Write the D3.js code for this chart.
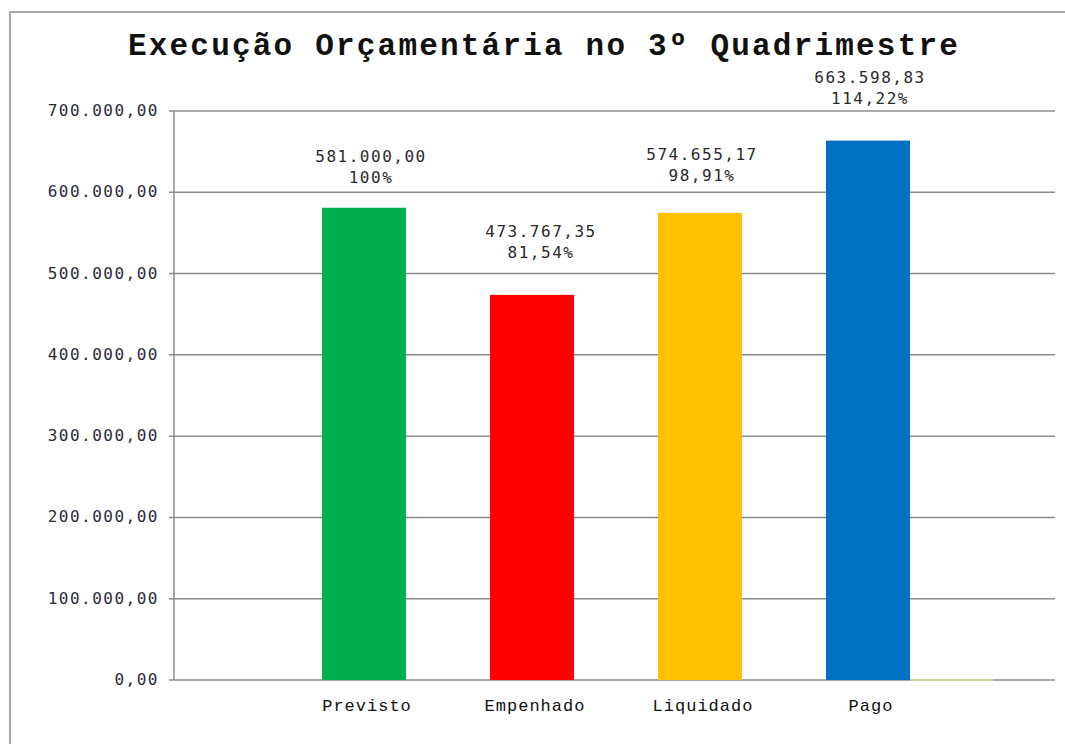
<!DOCTYPE html>
<html>
<head>
    <meta charset="utf-8">
    <title>Execução Orçamentária no 3º Quadrimestre</title>
</head>
<body style="margin:0">
<style type="text/css">
    body {
        background: #fff;
    }

    #renderer {
        width: 1065px;
        height: 744px;
        background: #FFF;
        display: block;
    }
</style>
<script type="text/javascript" src="https://cdnjs.cloudflare.com/ajax/libs/d3/7.8.5/d3.min.js"></script>
<svg id='renderer'></svg>

<script type="text/javascript">
    // data
    var categories = ['Previsto', 'Empenhado', 'Liquidado', 'Pago'];
    var values = [581000.00, 473767.35, 574655.17, 663598.83];
    var percentLabels = ['100%', '81,54%', '98,91%', '114,22%'];
    var barColors = ['#00B050', '#FF0000', '#FFC000', '#0070C0'];
    var yTicks = [0, 100000, 200000, 300000, 400000, 500000, 600000, 700000];

    var root = d3.select('#renderer');

    var totalWidth = 1065;
    var totalHeight = 744;

    var plotLeft = 174;
    var plotRight = 1055;
    var plotTop = 111;
    var plotBottom = 680;

    // formato brasileiro: 700.000,00
    var ptBR = d3.formatLocale({decimal: ',', thousands: '.', grouping: [3], currency: ['R$', '']});
    var fmt = ptBR.format(',.2f');

    var monoFont = '"Courier New", "Liberation Mono", monospace';
    var labelFont = '"DejaVu Sans Mono", "Liberation Mono", monospace';

    // moldura externa
    root.append('path')
        .attr('d', 'M10,744 V12 H1065')
        .attr('fill', 'none')
        .attr('stroke', '#a6a6a6')
        .attr('stroke-width', 2);

    // titulo
    root.append('text')
        .text('Execução Orçamentária no 3º Quadrimestre')
        .attr('x', 544)
        .attr('y', 55)
        .attr('font-family', monoFont)
        .attr('font-weight', 'bold')
        .attr('font-size', 31)
        .attr('letter-spacing', 2.2)
        .attr('text-anchor', 'middle')
        .attr('fill', '#111');

    var y = d3.scaleLinear()
        .domain([0, 700000])
        .range([plotBottom, plotTop]);

    var x = d3.scaleBand()
        .domain(categories)
        .range([280, 952])
        .paddingInner(0.5)
        .paddingOuter(0.25);

    // grade horizontal
    root.append('g')
        .selectAll('line')
        .data(yTicks)
        .enter()
        .append('line')
        .attr('x1', plotLeft - 5)
        .attr('x2', plotRight)
        .attr('y1', function (d) { return y(d); })
        .attr('y2', function (d) { return y(d); })
        .attr('stroke', '#8c8c8c')
        .attr('stroke-width', 1.5);

    // eixo vertical
    root.append('line')
        .attr('x1', plotLeft)
        .attr('x2', plotLeft)
        .attr('y1', plotTop)
        .attr('y2', plotBottom)
        .attr('stroke', '#8c8c8c')
        .attr('stroke-width', 1.5);

    // rotulos do eixo y
    root.append('g')
        .selectAll('text')
        .data(yTicks)
        .enter()
        .append('text')
        .text(function (d) { return fmt(d); })
        .attr('x', 159)
        .attr('y', function (d) { return y(d) + 5; })
        .attr('font-family', labelFont)
        .attr('font-size', 16)
        .attr('letter-spacing', 1.5)
        .attr('text-anchor', 'end')
        .attr('fill', '#2a2a3a');

    // barras
    root.append('g')
        .selectAll('rect')
        .data(categories)
        .enter()
        .append('rect')
        .attr('x', function (d) { return x(d); })
        .attr('y', function (d, i) { return y(values[i]); })
        .attr('width', x.bandwidth())
        .attr('height', function (d, i) { return y(0) - y(values[i]); })
        .attr('fill', function (d, i) { return barColors[i]; });

    // segmento verde claro na base, depois de "Pago"
    root.append('line')
        .attr('x1', x('Pago') + x.bandwidth())
        .attr('x2', x('Pago') + 2 * x.bandwidth())
        .attr('y1', y(0))
        .attr('y2', y(0))
        .attr('stroke', '#c3d69b')
        .attr('stroke-width', 2);

    // distancia dos rotulos acima de cada barra (ajuste manual como no original)
    var labelLift = {Previsto: 25, Empenhado: 37, Liquidado: 32, Pago: 37};
    var labelShift = {Previsto: 7, Empenhado: 9, Liquidado: 2, Pago: 2};

    var labels = root.append('g')
        .selectAll('g')
        .data(categories)
        .enter()
        .append('g')
        .attr('font-family', labelFont)
        .attr('font-size', 16)
        .attr('letter-spacing', 1.5)
        .attr('text-anchor', 'middle')
        .attr('fill', '#2a2a2a');

    labels.append('text')
        .text(function (d, i) { return fmt(values[i]); })
        .attr('x', function (d) { return x(d) + x.bandwidth() / 2 + labelShift[d]; })
        .attr('y', function (d, i) { return y(values[i]) - labelLift[d] - 21; });

    labels.append('text')
        .text(function (d, i) { return percentLabels[i]; })
        .attr('x', function (d) { return x(d) + x.bandwidth() / 2 + labelShift[d]; })
        .attr('y', function (d, i) { return y(values[i]) - labelLift[d]; });

    // categorias
    root.append('g')
        .selectAll('text')
        .data(categories)
        .enter()
        .append('text')
        .text(function (d) { return d; })
        .attr('x', function (d) { return x(d) + x.bandwidth() / 2 + 3; })
        .attr('y', 711)
        .attr('font-family', monoFont)
        .attr('font-size', 17)
        .attr('letter-spacing', 1)
        .attr('text-anchor', 'middle')
        .attr('fill', '#111');
</script>
</body>
</html>
